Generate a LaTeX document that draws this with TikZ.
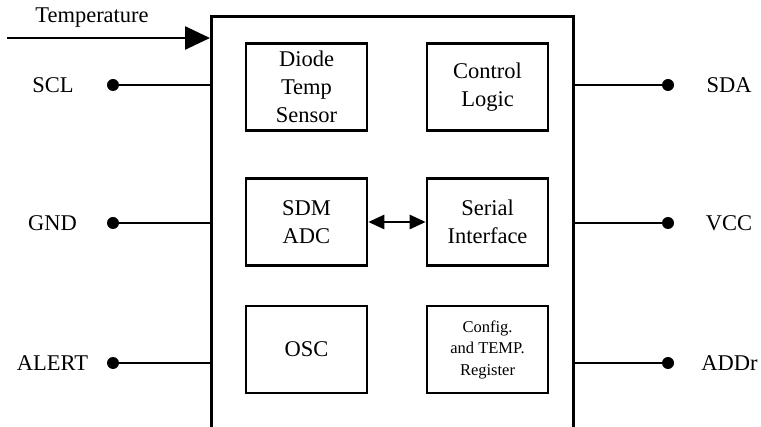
\documentclass[tikz,border=0pt]{standalone}
\usepackage{fontspec}
\setmainfont{Liberation Serif}
\usetikzlibrary{arrows.meta}
\begin{document}
\begin{tikzpicture}[x=1pt,y=-1pt,line width=2.6pt,
  blk/.style={draw,line width=2.6pt,minimum width=121pt,minimum height=87pt,inner sep=0pt,align=center,font=\fontsize{22.5}{28}\selectfont},
  pindot/.style={circle,fill,inner sep=0pt,minimum size=12pt},
  lbl/.style={font=\fontsize{22.5}{28}\selectfont,inner sep=0pt,text depth=0pt},
  bigtip/.style={-{Triangle[length=25pt,width=23pt]}},
  smalltip/.style={{Triangle[length=16pt,width=14pt]}-{Triangle[length=16pt,width=14pt]}}]
\useasboundingbox (0,0) rectangle (761,427);
\clip (0,0) rectangle (761,427);
% main chip
\node[draw,line width=2.6pt,minimum width=362pt,minimum height=414pt,anchor=north west,inner sep=0pt] (chip) at (210,15) {};
% inner blocks
\node[blk] (diode) at (306.5,87) {Diode\\Temp\\Sensor};
\node[blk] (ctrl) at (487.5,87) {Control\\Logic};
\node[blk] (sdm) at (306.5,222) {SDM\\ADC};
\node[blk] (serial) at (487.5,222) {Serial\\Interface};
\node[blk] (osc) at (306.5,349.5) {OSC};
\node[blk,font=\fontsize{16.5}{21.5}\selectfont] (cfg) at (487.5,349.5) {Config.\\and TEMP.\\Register};
\draw[smalltip] (sdm) -- (serial);
% temperature input
\coordinate (tin) at (7,38);
\node[font=\fontsize{22.5}{28}\selectfont,inner sep=0pt,anchor=base] (templbl) at (92,23) {Temperature};
\draw[bigtip] (tin) -- (tin -| chip.west);
% left pins
\node[pindot] (scl) at (113,85) {};
\node[pindot] (gnd) at (113,223) {};
\node[pindot] (alert) at (113,363) {};
\node[lbl] (scllbl) at (53,85) {SCL};
\node[lbl] (gndlbl) at (52.5,223) {GND};
\node[lbl] (alertlbl) at (52.5,363) {ALERT};
\draw (scl.center) -- (scl.center -| chip.west);
\draw (gnd.center) -- (gnd.center -| chip.west);
\draw (alert.center) -- (alert.center -| chip.west);
% right pins
\node[pindot] (sda) at (668,85) {};
\node[pindot] (vcc) at (668,223) {};
\node[pindot] (addr) at (668,363) {};
\node[lbl] (sdalbl) at (729,85) {SDA};
\node[lbl] (vcclbl) at (729,223) {VCC};
\node[lbl] (addrlbl) at (729.5,363) {ADDr};
\draw (sda.center) -- (sda.center -| chip.east);
\draw (vcc.center) -- (vcc.center -| chip.east);
\draw (addr.center) -- (addr.center -| chip.east);
\end{tikzpicture}
\end{document}
